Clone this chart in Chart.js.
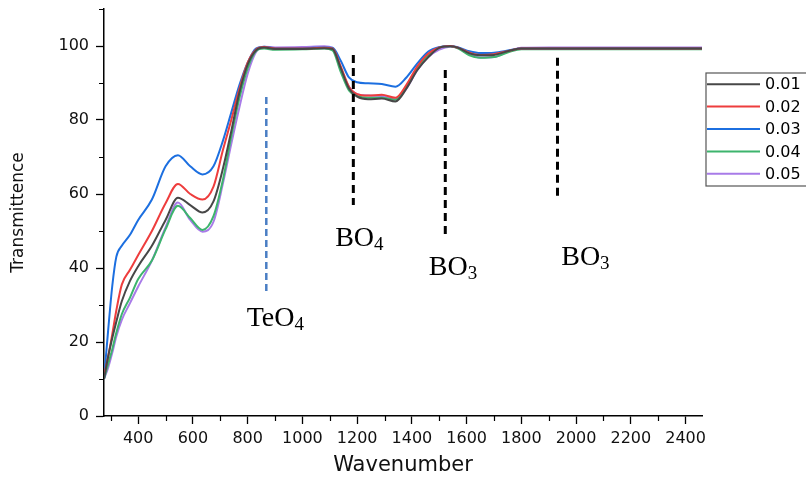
<!DOCTYPE html>
<html>
<head>
<meta charset="utf-8">
<script src="https://cdn.jsdelivr.net/npm/chart.js@4.4.1/dist/chart.umd.min.js"></script>
<style>
  html, body { margin: 0; padding: 0; background: #fff; }
  #wrap { width: 806px; height: 480px; position: relative; }
</style>
</head>
<body>
<div id="wrap"><canvas id="ftirChart" width="806" height="480"></canvas></div>
<script>
// wavenumber sample points shared by every series
const wavenumbers = [275, 290, 305, 320, 340, 370, 400, 450, 500, 545, 590, 635, 675, 710, 740, 770, 800, 830, 860, 900,
  1000, 1080, 1110, 1140, 1170, 1200, 1240, 1290, 1340, 1380, 1420, 1460, 1500, 1540, 1570, 1610, 1650, 1700, 1760, 1800,
  1900, 2100, 2300, 2460];

const seriesLabels = ['0.01', '0.02', '0.03', '0.04', '0.05'];
const seriesColors = ['#474747', '#ee3d3d', '#1c6fe0', '#3db46d', '#a87be8'];

const t001 = [10, 16, 21, 25.5, 31, 36.5, 40.5, 46, 53, 59, 57, 55, 58, 67, 77, 87.5, 95, 98.8, 99.6, 99.2,
  99.2, 99.4, 99.2, 94, 88.5, 86.3, 85.6, 85.8, 85, 88.5, 93.5, 97, 99.5, 99.9, 99.5, 98, 97.5, 97.6, 98.8, 99.3,
  99.3, 99.3, 99.3, 99.3];
const t002 = [11, 16, 22, 28.5, 35.5, 39.5, 43.5, 50, 57.5, 62.7, 60, 58.5, 62, 72, 80, 88.5, 95.5, 99, 99.7, 99.3,
  99.3, 99.5, 99.3, 94.5, 89, 87, 86.6, 86.8, 86, 89.5, 94.5, 98, 99.6, 100, 99.5, 98.2, 97.6, 97.8, 98.8, 99.3,
  99.3, 99.3, 99.3, 99.3];
const t003 = [10, 23, 35, 43, 46, 49, 53, 58.5, 67.5, 70.5, 67.5, 65.3, 67.5, 74.5, 82, 89.5, 95.5, 99.3, 99.8, 99.4,
  99.4, 99.6, 99.5, 96, 91.5, 90.2, 89.9, 89.7, 89, 91.5, 95.3, 98.5, 99.7, 100, 99.6, 98.6, 98.1, 98.2, 98.9, 99.3,
  99.3, 99.4, 99.4, 99.4];
const t004 = [10, 14, 18, 22.5, 27.5, 32, 37, 42, 50.5, 56.8, 53.5, 50.3, 54, 64, 75.5, 86, 94, 98.6, 99.3, 99,
  99.1, 99.3, 98.8, 93, 88, 86.5, 86, 86, 85.5, 89, 94, 97.5, 99.6, 99.9, 99.3, 97.5, 96.8, 97, 98.5, 99.1,
  99.1, 99.1, 99.1, 99.1];
const t005 = [10, 13, 17, 21.5, 26, 30.5, 35, 42, 51, 57.7, 53, 49.8, 52.5, 63, 73.5, 83.5, 92.5, 98.3, 99.8, 99.6,
  99.7, 99.9, 99.5, 94, 89, 87, 86.6, 86.5, 85.6, 88.5, 93.5, 97, 99, 99.8, 99.4, 97.8, 96.9, 97, 98.8, 99.5,
  99.6, 99.6, 99.6, 99.6];
const seriesValues = [t001, t002, t003, t004, t005];

const xMajorTicks = [400, 600, 800, 1000, 1200, 1400, 1600, 1800, 2000, 2200, 2400];
const xMinorTicks = [300, 500, 700, 900, 1100, 1300, 1500, 1700, 1900, 2100, 2300];
const yMajorTicks = [0, 20, 40, 60, 80, 100];
const yMinorTicks = [10, 30, 50, 70, 90, 110];

// band markers: wavenumber, top and bottom transmittance, label position
const bandNames = ['TeO', 'BO', 'BO', 'BO'];
const bandSubs = ['4', '4', '3', '3'];
const bandWn = [868, 1186, 1522, 1932];
const bandTop = [86.2, 97.6, 93.5, 96.8];
const bandBottom = [33.2, 57, 48.4, 58.4];
const bandLabelWn = [901, 1208, 1550, 2034];
const bandLabelBase = [24.3, 45.9, 38.1, 40.8];
const bandColors = ['#4a7ec4', '#000', '#000', '#000'];

const serif = '"Liberation Serif", "Times New Roman", serif';
const sans = '"DejaVu Sans", Arial, sans-serif';

const bandPlugin = {
  id: 'bands',
  afterDatasetsDraw(chart) {
    const { ctx, scales: { x, y } } = chart;
    ctx.save();
    bandWn.forEach((wn, i) => {
      const px = x.getPixelForValue(wn);
      ctx.strokeStyle = bandColors[i];
      ctx.lineWidth = i === 0 ? 2.5 : 3;
      ctx.setLineDash(i === 0 ? [7, 4] : [8, 5]);
      ctx.beginPath();
      ctx.moveTo(px, y.getPixelForValue(bandTop[i]));
      ctx.lineTo(px, y.getPixelForValue(bandBottom[i]));
      ctx.stroke();
    });
    ctx.setLineDash([]);
    ctx.fillStyle = '#000';
    ctx.textBaseline = 'alphabetic';
    bandNames.forEach((name, i) => {
      const cx = x.getPixelForValue(bandLabelWn[i]);
      const base = y.getPixelForValue(bandLabelBase[i]);
      ctx.font = '28px ' + serif;
      const w1 = ctx.measureText(name).width;
      ctx.font = '19px ' + serif;
      const w2 = ctx.measureText(bandSubs[i]).width;
      const left = cx - (w1 + w2) / 2;
      ctx.font = '28px ' + serif;
      ctx.fillText(name, left, base);
      ctx.font = '19px ' + serif;
      ctx.fillText(bandSubs[i], left + w1, base + 4);
    });
    ctx.restore();
  }
};

const minorTickPlugin = {
  id: 'minorTicks',
  afterDraw(chart) {
    const { ctx, scales: { x, y }, chartArea } = chart;
    ctx.save();
    ctx.strokeStyle = '#000';
    ctx.lineWidth = 1.2;
    ctx.beginPath();
    xMinorTicks.forEach(v => {
      const px = Math.round(x.getPixelForValue(v)) + 0.5;
      ctx.moveTo(px, chartArea.bottom);
      ctx.lineTo(px, chartArea.bottom + 5);
    });
    yMinorTicks.forEach(v => {
      const py = Math.round(y.getPixelForValue(v)) + 0.5;
      ctx.moveTo(chartArea.left, py);
      ctx.lineTo(chartArea.left - 5, py);
    });
    ctx.stroke();
    ctx.restore();
  }
};

const legendPlugin = {
  id: 'boxLegend',
  afterDraw(chart) {
    const { ctx } = chart;
    const left = 706, top = 73, rowH = 22.4;
    ctx.save();
    ctx.strokeStyle = '#555';
    ctx.lineWidth = 1.2;
    ctx.strokeRect(left, top, 120, rowH * 5 + 1);
    ctx.font = '16px ' + sans;
    ctx.textBaseline = 'middle';
    chart.data.datasets.forEach((ds, i) => {
      const yy = top + rowH * i + rowH / 2;
      ctx.strokeStyle = ds.borderColor;
      ctx.lineWidth = 2;
      ctx.beginPath();
      ctx.moveTo(left + 1, yy);
      ctx.lineTo(left + 54, yy);
      ctx.stroke();
      ctx.fillStyle = '#000';
      ctx.fillText(ds.label, left + 59, yy + 1);
    });
    ctx.restore();
  }
};

const datasets = seriesLabels.map((label, i) => ({
  label: label,
  data: wavenumbers.map((wn, j) => ({ x: wn, y: seriesValues[i][j] })),
  borderColor: seriesColors[i],
  backgroundColor: seriesColors[i],
  borderWidth: 2,
  pointRadius: 0,
  cubicInterpolationMode: 'monotone',
  fill: false
}));

new Chart(document.getElementById('ftirChart').getContext('2d'), {
  type: 'line',
  data: { datasets: datasets },
  options: {
    responsive: false,
    animation: false,
    layout: { padding: { left: 0, top: 9, right: 104, bottom: 0 } },
    plugins: { legend: { display: false }, tooltip: { enabled: false } },
    scales: {
      x: {
        type: 'linear',
        min: 275,
        max: 2460,
        afterBuildTicks: (axis) => { axis.ticks = xMajorTicks.map(v => ({ value: v })); },
        afterFit: (scale) => { scale.height = 64; scale.paddingLeft = 0; scale.paddingRight = 0; },
        border: { display: true, color: '#000', width: 1.5 },
        grid: { drawOnChartArea: false, color: '#000', tickLength: 8, tickWidth: 1.3 },
        ticks: {
          autoSkip: false,
          maxRotation: 0,
          color: '#111',
          font: { family: sans, size: 16 },
          padding: 5,
          callback: (v) => String(v)
        },
        title: {
          display: true,
          text: 'Wavenumber',
          color: '#111',
          font: { family: sans, size: 21 },
          padding: { top: 2, bottom: 2 }
        }
      },
      y: {
        min: 0,
        max: 110,
        afterBuildTicks: (axis) => { axis.ticks = yMajorTicks.map(v => ({ value: v })); },
        afterFit: (scale) => { scale.width = 104; scale.paddingTop = 0; scale.paddingBottom = 0; },
        border: { display: true, color: '#000', width: 1.5 },
        grid: { drawOnChartArea: false, color: '#000', tickLength: 8, tickWidth: 1.3 },
        ticks: {
          color: '#111',
          font: { family: sans, size: 16 },
          padding: 7,
          callback: (v) => String(v)
        },
        title: {
          display: true,
          text: 'Transmittence',
          color: '#111',
          font: { family: sans, size: 17 },
          padding: { top: 8, bottom: 4 }
        }
      }
    }
  },
  plugins: [bandPlugin, minorTickPlugin, legendPlugin]
});
</script>
</body>
</html>
